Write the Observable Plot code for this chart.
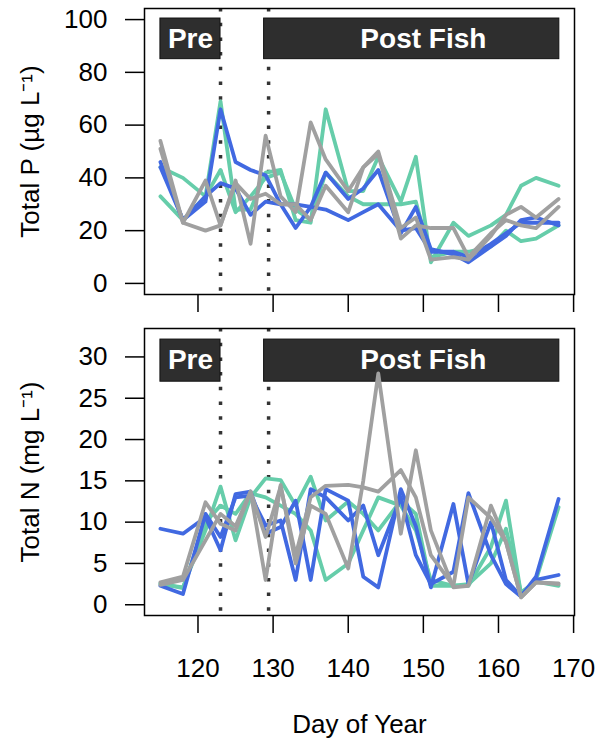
<!DOCTYPE html>
<html><head><meta charset="utf-8">
<script src="https://cdn.jsdelivr.net/npm/d3@7"></script>
<script src="https://cdn.jsdelivr.net/npm/@observablehq/plot@0.6"></script>
<style>
body{margin:0;background:#fff;}
#chart svg{display:block;}
</style></head><body><div id="chart"></div>
<script>
// Sampling days (day of year)
const days = [115,118,121,123,125,127,129,131,133,135,137,140,142,144,147,149,151,154,156,159,161,163,165,168];

// Total P (µg/L)
const pGreen1 = [44,40,33,69,28,28,42,43,24,23,66,35,35,48,31,48,8,23,18,22,26,37,40,37];
const pGreen2 = [33,24,33,43,27,33,40,42,28,24,42,33,30,30,30,31,10,12,12,14,20,16,17,22];
const pBlue1  = [46,24,31,66,46,43,41,30,21,29,42,32,36,43,19,29,13,11,8,14,18,24,25,22];
const pBlue2  = [44,24,33,38,36,26,31,30,30,29,28,24,27,30,20,21,12,12,10,15,19,23,23,23];
const pGray1  = [54,23,39,22,39,15,56,33,27,61,47,35,44,50,21,25,9,10,9,18,26,29,25,32];
const pGray2  = [51,23,20,22,38,32,34,30,30,24,37,27,44,49,17,22,21,21,10,19,24,22,21,29];

// Total N (mg/L)
const nGreen1 = [2.5,2.1,9.0,14.3,7.8,13.0,15.3,15.1,12.0,15.5,10.2,12.5,11.0,9.0,12.6,11.0,2.3,2.3,2.3,7.0,12.6,1.3,3.0,11.8];
const nGreen2 = [2.6,2.0,10.0,12.0,11.0,13.5,13.0,12.0,11.0,9.0,3.0,5.0,9.0,13.0,12.0,9.0,3.0,2.3,2.5,5.0,9.2,1.5,2.8,2.3];
const nBlue1  = [9.2,8.6,10.6,6.6,13.4,13.7,8.6,9.4,12.6,3.0,14.0,12.6,3.4,2.1,14.0,9.5,2.1,12.2,2.5,10.0,3.0,1.0,3.4,12.8];
const nBlue2  = [2.3,1.3,11.0,8.2,13.0,13.2,9.6,10.2,3.0,14.0,13.0,10.2,12.0,6.0,13.0,6.0,2.5,4.0,13.5,6.0,2.5,1.0,3.0,3.6];
const nGray1  = [2.7,3.4,12.4,9.8,9.0,13.7,3.0,14.5,5.0,12.0,11.0,4.4,15.0,28.0,8.6,18.7,9.0,2.1,2.3,12.0,7.6,0.9,2.7,2.5];
const nGray2  = [2.4,3.0,7.8,11.0,9.5,13.7,8.2,14.3,6.0,13.0,14.4,14.5,14.2,13.7,16.3,13.0,6.0,2.3,13.0,10.5,7.6,0.9,2.7,2.6];

const seriesNames  = ["green1","green2","blue1","blue2","gray1","gray2"];
const seriesColors = ["#66CDAA","#66CDAA","#4169E1","#4169E1","#A0A0A0","#A0A0A0"];

const xTicks = [120,130,140,150,160,170];
const pTicks = [0,20,40,60,80,100];
const nTicks = [0,5,10,15,20,25,30];

const periods = ["Pre","Post Fish"];
const periodStart = [115, 128.8];
const periodEnd = [123, 168.1];
const periodLabelX = [119, 150];
const markerDays = [123, 129.4];

function panel({series, yDomain, yTicks, boxY, labelY, ylabel, height, marginTop, marginBottom, xLabels}) {
  const rows = [];
  series.forEach((vals, i) => vals.forEach((v, j) => rows.push({day: days[j], v, s: seriesNames[i]})));
  return Plot.plot({
    width: 600, height, marginLeft: 144, marginRight: 26, marginTop, marginBottom,
    style: {fontFamily: "'Liberation Sans', Arial, sans-serif", fontSize: "26px", color: "black", background: "white"},
    x: {domain: [112.88, 170.12], label: null},
    y: {domain: yDomain, label: null},
    color: {domain: seriesNames, range: seriesColors},
    marks: [
      Plot.ruleX(markerDays, {x: d => d, stroke: "#333", strokeWidth: 3.5, strokeDasharray: "3.5,11.2"}),
      Plot.rect(periods, {x1: (d, i) => periodStart[i], x2: (d, i) => periodEnd[i], y1: () => boxY[0], y2: () => boxY[1], fill: "#2e2e2e", stroke: "#111", strokeWidth: 1}),
      Plot.text(periods, {x: (d, i) => periodLabelX[i], y: () => labelY, text: d => d, fill: "white", fontWeight: "bold", fontSize: 28}),
      Plot.line(rows, {x: "day", y: "v", z: "s", stroke: "s", strokeWidth: 3.8}),
      Plot.frame({stroke: "black", strokeWidth: 1.5}),
      Plot.axisY(yTicks, {tickSize: 19, tickPadding: 18, strokeWidth: 1.5, label: ylabel, labelAnchor: "center", labelArrow: false, labelOffset: 124}),
      xLabels
        ? Plot.axisX(xTicks, {tickSize: 18, tickPadding: 25, strokeWidth: 1.5, label: "Day of Year", labelAnchor: "center", labelArrow: false, labelOffset: 117})
        : Plot.axisX(xTicks, {tickSize: 18, strokeWidth: 1.5, tickFormat: () => "", label: null})
    ]
  });
}

const chart = document.getElementById("chart");
chart.appendChild(panel({
  series: [pGreen1, pGreen2, pBlue1, pBlue2, pGray1, pGray2],
  yDomain: [-4.2, 104.2], yTicks: pTicks, boxY: [85, 100.4], labelY: 92.5,
  ylabel: "Total P (µg L⁻¹)", height: 320, marginTop: 8, marginBottom: 26, xLabels: false
}));
chart.appendChild(panel({
  series: [nGreen1, nGreen2, nBlue1, nBlue2, nGray1, nGray2],
  yDomain: [-1.3, 33.44], yTicks: nTicks, boxY: [27, 32.1], labelY: 29.6,
  ylabel: "Total N (mg L⁻¹)", height: 422, marginTop: 8, marginBottom: 127, xLabels: true
}));
</script></body></html>
